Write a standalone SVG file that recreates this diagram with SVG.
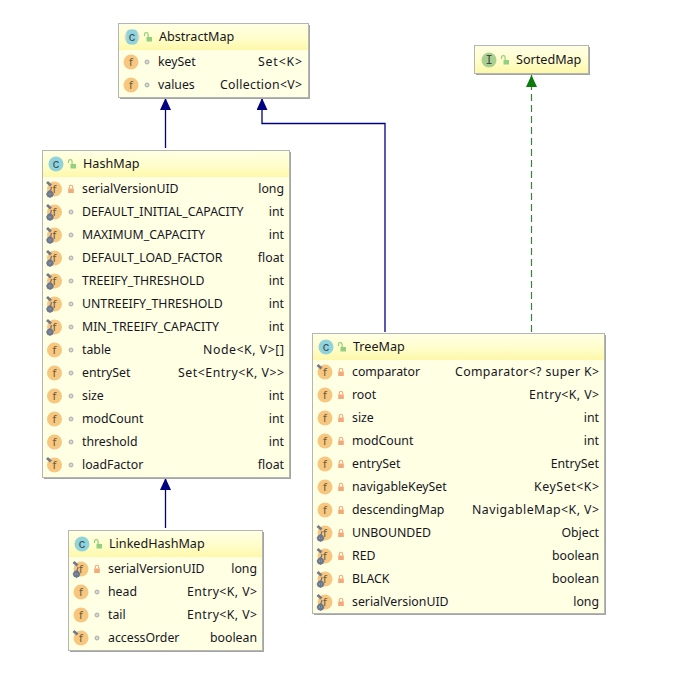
<svg xmlns="http://www.w3.org/2000/svg" width="694" height="678" viewBox="0 0 694 678">
<style>
text{font-family:"Noto Sans","Liberation Sans",Arial,sans-serif;font-size:12.3px;fill:#16161e}
.t{font-size:12.600px}
.r{text-anchor:end}
.box{fill:#ffffe4;stroke:#b4b6b4;stroke-width:1}
.sh{fill:#a4a4a4}
.c{stroke:#000080;stroke-width:1.3;fill:none}
.d{stroke:#3f7f3f;stroke-width:1.2;fill:none;stroke-dasharray:7 4}
.il{font-family:"Liberation Mono",monospace;font-size:12px;text-anchor:middle;fill:#3c4a50}
</style>
<defs>
<linearGradient id="hg" x1="0" y1="0" x2="0" y2="1"><stop offset="0" stop-color="#ffffe4"/><stop offset="0.6" stop-color="#fffdc8"/><stop offset="1" stop-color="#fdf8a8"/></linearGradient>
<marker id="ab" markerWidth="13" markerHeight="12" refX="12" refY="5.500" orient="auto" markerUnits="userSpaceOnUse"><path d="M0 0L12 5.500L0 11Z" fill="#000080"/></marker>
<marker id="ag" markerWidth="13" markerHeight="12" refX="12" refY="5.500" orient="auto" markerUnits="userSpaceOnUse"><path d="M0 0L12 5.500L0 11Z" fill="#0a7a0a"/></marker>
<g id="f"><circle r="7.500" fill="#f7c67f"/><text x="0" y="4" text-anchor="middle" style="font-size:11px;fill:#6b5a3a">f</text></g>
<path id="pin" d="M-7.500-7L-3.500-3.500" stroke="#70788a" stroke-width="2.800"/>
<g id="gear"><circle cx="-4.500" cy="5" r="2.400" fill="none" stroke="#6a7890" stroke-width="2.200"/><path d="M-4.500 1.200V8.800M-8.300 5H-0.700" stroke="#6a7890" stroke-width="1.200"/><path d="M-3-2L-4 2" stroke="#70788a" stroke-width="1.300"/></g>
<g id="lock"><rect x="-2.800" y="-0.500" width="5.600" height="4.500" fill="#f4a97b"/><path d="M-1.700-.5v-1.500a1.700 1.700 0 0 1 3.400 0v1.500" fill="none" stroke="#f4a97b" stroke-width="1.100"/></g>
<circle id="pkg" r="2" fill="#d6d9d4" stroke="#a9adab"/>
<g id="open"><rect x="-1.500" y="0" width="5.500" height="4.500" fill="#93cf7f"/><path d="M-3.500-1v-1.500a1.800 1.800 0 0 1 3.600 0v2.500" fill="none" stroke="#93cf7f" stroke-width="1.200"/></g>
<g id="cl"><circle r="7.500" fill="#8fd3dc"/><text y="4" class="il">c</text></g>
<g id="acl"><circle r="7.500" fill="#d8d8cc"/><rect x="-5.500" y="-7.500" width="11" height="15" rx="4" fill="#8fd3dc"/><text y="4" class="il">c</text></g>
<g id="in"><circle r="7.500" fill="#a9d08e"/><text y="4" class="il">I</text></g>
</defs>
<g id="connectors">
<path class="c" d="M165.500 148V98" marker-end="url(#ab)"/>
<path class="c" d="M385 332V123.500H262V98" marker-end="url(#ab)"/>
<path class="d" d="M531.500 332V75" marker-end="url(#ag)"/>
<path class="c" d="M165.500 528V478" marker-end="url(#ab)"/>
</g>
<g id="AbstractMap">
<rect class="sh" x="120" y="25" width="190" height="74"/><rect class="box" x="118.500" y="23.500" width="190" height="74"/>
<rect x="119" y="24" width="189" height="26" fill="url(#hg)"/>
<use href="#acl" x="132" y="37"/><use href="#open" x="148" y="37"/><text class="t" x="159" y="41">AbstractMap</text>
<use href="#f" x="131" y="62"/><use href="#pkg" x="147" y="62"/><text x="158" y="66">keySet</text><text class="r" x="302" y="66" textLength="44">Set&lt;K&gt;</text>
<use href="#f" x="131" y="85"/><use href="#pkg" x="147" y="85"/><text x="158" y="89">values</text><text class="r" x="302" y="89" textLength="82">Collection&lt;V&gt;</text>
</g>
<g id="SortedMap">
<rect class="sh" x="476" y="47" width="114" height="28"/><rect class="box" x="474.500" y="45.500" width="114" height="28"/>
<rect x="475" y="46" width="113" height="27" fill="url(#hg)"/>
<use href="#in" x="489" y="60"/><use href="#open" x="505" y="60"/><text class="t" x="516" y="64">SortedMap</text>
</g>
<g id="HashMap">
<rect class="sh" x="44" y="152" width="247" height="327"/><rect class="box" x="42.500" y="150.500" width="247" height="327"/>
<rect x="43" y="151" width="246" height="26" fill="url(#hg)"/>
<use href="#cl" x="56" y="164"/><use href="#open" x="72" y="164"/><text class="t" x="83" y="168">HashMap</text>
<use href="#f" x="54.500" y="189"/><use href="#gear" x="54.500" y="189"/><use href="#pin" x="54.500" y="189"/><use href="#lock" x="71" y="189"/><text x="82" y="193">serialVersionUID</text><text class="r" x="284" y="193">long</text>
<use href="#f" x="54.500" y="212"/><use href="#gear" x="54.500" y="212"/><use href="#pin" x="54.500" y="212"/><use href="#pkg" x="71" y="212"/><text x="82" y="216">DEFAULT_INITIAL_CAPACITY</text><text class="r" x="284" y="216">int</text>
<use href="#f" x="54.500" y="235"/><use href="#gear" x="54.500" y="235"/><use href="#pin" x="54.500" y="235"/><use href="#pkg" x="71" y="235"/><text x="82" y="239">MAXIMUM_CAPACITY</text><text class="r" x="284" y="239">int</text>
<use href="#f" x="54.500" y="258"/><use href="#gear" x="54.500" y="258"/><use href="#pin" x="54.500" y="258"/><use href="#pkg" x="71" y="258"/><text x="82" y="262">DEFAULT_LOAD_FACTOR</text><text class="r" x="284" y="262">float</text>
<use href="#f" x="54.500" y="281"/><use href="#gear" x="54.500" y="281"/><use href="#pin" x="54.500" y="281"/><use href="#pkg" x="71" y="281"/><text x="82" y="285">TREEIFY_THRESHOLD</text><text class="r" x="284" y="285">int</text>
<use href="#f" x="54.500" y="304"/><use href="#gear" x="54.500" y="304"/><use href="#pin" x="54.500" y="304"/><use href="#pkg" x="71" y="304"/><text x="82" y="308">UNTREEIFY_THRESHOLD</text><text class="r" x="284" y="308">int</text>
<use href="#f" x="54.500" y="327"/><use href="#gear" x="54.500" y="327"/><use href="#pin" x="54.500" y="327"/><use href="#pkg" x="71" y="327"/><text x="82" y="331">MIN_TREEIFY_CAPACITY</text><text class="r" x="284" y="331">int</text>
<use href="#f" x="54.500" y="350"/><use href="#pkg" x="71" y="350"/><text x="82" y="354">table</text><text class="r" x="284" y="354" textLength="81">Node&lt;K, V&gt;[]</text>
<use href="#f" x="54.500" y="373"/><use href="#pkg" x="71" y="373"/><text x="82" y="377">entrySet</text><text class="r" x="284" y="377" textLength="106">Set&lt;Entry&lt;K, V&gt;&gt;</text>
<use href="#f" x="54.500" y="396"/><use href="#pkg" x="71" y="396"/><text x="82" y="400">size</text><text class="r" x="284" y="400">int</text>
<use href="#f" x="54.500" y="419"/><use href="#pkg" x="71" y="419"/><text x="82" y="423">modCount</text><text class="r" x="284" y="423">int</text>
<use href="#f" x="54.500" y="442"/><use href="#pkg" x="71" y="442"/><text x="82" y="446">threshold</text><text class="r" x="284" y="446">int</text>
<use href="#f" x="54.500" y="465"/><use href="#pin" x="54.500" y="465"/><use href="#pkg" x="71" y="465"/><text x="82" y="469">loadFactor</text><text class="r" x="284" y="469">float</text>
</g>
<g id="LinkedHashMap">
<rect class="sh" x="70" y="532" width="194" height="120"/><rect class="box" x="68.500" y="530.500" width="194" height="120"/>
<rect x="69" y="531" width="193" height="26" fill="url(#hg)"/>
<use href="#cl" x="82" y="544"/><use href="#open" x="98" y="544"/><text class="t" x="109" y="548">LinkedHashMap</text>
<use href="#f" x="81" y="569"/><use href="#gear" x="81" y="569"/><use href="#pin" x="81" y="569"/><use href="#lock" x="97" y="569"/><text x="108" y="573">serialVersionUID</text><text class="r" x="257" y="573">long</text>
<use href="#f" x="81" y="592"/><use href="#pkg" x="97" y="592"/><text x="108" y="596">head</text><text class="r" x="257" y="596" textLength="70">Entry&lt;K, V&gt;</text>
<use href="#f" x="81" y="615"/><use href="#pkg" x="97" y="615"/><text x="108" y="619">tail</text><text class="r" x="257" y="619" textLength="70">Entry&lt;K, V&gt;</text>
<use href="#f" x="81" y="638"/><use href="#pin" x="81" y="638"/><use href="#pkg" x="97" y="638"/><text x="108" y="642">accessOrder</text><text class="r" x="257" y="642">boolean</text>
</g>
<g id="TreeMap">
<rect class="sh" x="314" y="335" width="292" height="280"/><rect class="box" x="312.500" y="333.500" width="292" height="280"/>
<rect x="313" y="334" width="291" height="26" fill="url(#hg)"/>
<use href="#cl" x="326" y="347"/><use href="#open" x="342" y="347"/><text class="t" x="353" y="351">TreeMap</text>
<use href="#f" x="325" y="372"/><use href="#pin" x="325" y="372"/><use href="#lock" x="341" y="372"/><text x="352" y="376">comparator</text><text class="r" x="599" y="376" textLength="144">Comparator&lt;? super K&gt;</text>
<use href="#f" x="325" y="395"/><use href="#lock" x="341" y="395"/><text x="352" y="399">root</text><text class="r" x="599" y="399" textLength="70">Entry&lt;K, V&gt;</text>
<use href="#f" x="325" y="418"/><use href="#lock" x="341" y="418"/><text x="352" y="422">size</text><text class="r" x="599" y="422">int</text>
<use href="#f" x="325" y="441"/><use href="#lock" x="341" y="441"/><text x="352" y="445">modCount</text><text class="r" x="599" y="445">int</text>
<use href="#f" x="325" y="464"/><use href="#lock" x="341" y="464"/><text x="352" y="468">entrySet</text><text class="r" x="599" y="468">EntrySet</text>
<use href="#f" x="325" y="487"/><use href="#lock" x="341" y="487"/><text x="352" y="491">navigableKeySet</text><text class="r" x="599" y="491" textLength="65">KeySet&lt;K&gt;</text>
<use href="#f" x="325" y="510"/><use href="#lock" x="341" y="510"/><text x="352" y="514">descendingMap</text><text class="r" x="599" y="514" textLength="127">NavigableMap&lt;K, V&gt;</text>
<use href="#f" x="325" y="533"/><use href="#gear" x="325" y="533"/><use href="#pin" x="325" y="533"/><use href="#lock" x="341" y="533"/><text x="352" y="537">UNBOUNDED</text><text class="r" x="599" y="537">Object</text>
<use href="#f" x="325" y="556"/><use href="#gear" x="325" y="556"/><use href="#pin" x="325" y="556"/><use href="#lock" x="341" y="556"/><text x="352" y="560">RED</text><text class="r" x="599" y="560">boolean</text>
<use href="#f" x="325" y="579"/><use href="#gear" x="325" y="579"/><use href="#pin" x="325" y="579"/><use href="#lock" x="341" y="579"/><text x="352" y="583">BLACK</text><text class="r" x="599" y="583">boolean</text>
<use href="#f" x="325" y="602"/><use href="#gear" x="325" y="602"/><use href="#pin" x="325" y="602"/><use href="#lock" x="341" y="602"/><text x="352" y="606">serialVersionUID</text><text class="r" x="599" y="606">long</text>
</g>
</svg>
